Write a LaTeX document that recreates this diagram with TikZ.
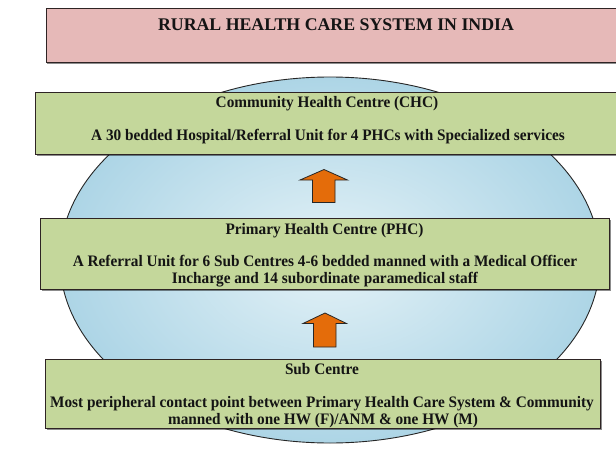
\documentclass[tikz,border=0pt]{standalone}
\usepackage{fontspec}
\setmainfont{Liberation Serif}
\newfontfamily\condserif[FakeStretch=0.955]{Liberation Serif}
\usetikzlibrary{shadows,shapes.geometric}
\definecolor{pinkfill}{HTML}{E6B9B8}
\definecolor{greenfill}{HTML}{C4D79B}
\definecolor{edgecol}{HTML}{2E2424}
\definecolor{txtcol}{HTML}{141414}
\definecolor{ellin}{HTML}{E4F2F7}
\definecolor{ellout}{HTML}{ADD5E6}
\definecolor{arrowfill}{HTML}{E46C0A}
\tikzset{
  boxstyle/.style={draw=edgecol, line width=1pt, anchor=north west, inner sep=0pt,
    drop shadow={shadow xshift=1.2pt, shadow yshift=-1.5pt, fill=black, opacity=0.45}},
  titletext/.style={font=\bfseries\fontsize{17.8}{20}\selectfont, text=txtcol, anchor=base, inner sep=0pt},
  bodytext/.style={font=\condserif\bfseries\fontsize{16}{17}\selectfont, text=txtcol, anchor=base, inner sep=0pt},
  blockarrow/.style={fill=arrowfill, draw=black!85, line width=0.8pt, line join=miter}
}
\begin{document}
\begin{tikzpicture}[x=1pt,y=-1pt]
\useasboundingbox (0,0) rectangle (616,460);
\fill[white] (0,0) rectangle (616,460);
% ellipse
\node[draw=black!85, line width=0.9pt, ellipse, inner color=ellin, outer color=ellout,
  minimum width=540pt, minimum height=366pt, inner sep=0pt] (ell) at (330,260) {};
% title
\node[boxstyle, fill=pinkfill, minimum width=580pt, minimum height=53.7pt] (titlebox) at (45.7,8.3) {};
\node[titletext] (title) at (336,30.7) {RURAL HEALTH CARE SYSTEM IN INDIA};
% CHC
\node[boxstyle, fill=greenfill, minimum width=590pt, minimum height=62.3pt] (chc) at (35,91.7) {};
\node[bodytext] (chct) at (327,107.5) {Community Health Centre (CHC)};
\node[bodytext] (chcd) at (328,140) {A 30 bedded Hospital/Referral Unit for 4 PHCs with Specialized services};
% PHC
\node[boxstyle, fill=greenfill, minimum width=569pt, minimum height=71pt] (phc) at (40,218) {};
\node[bodytext] (phct) at (324.5,234.5) {Primary Health Centre (PHC)};
\node[bodytext] (phcd) at (325,266) {A Referral Unit for 6 Sub Centres 4-6 bedded manned with a Medical Officer};
\node[bodytext] (phce) at (325,283) {Incharge and 14 subordinate paramedical staff};
% Sub centre
\node[boxstyle, fill=greenfill, minimum width=555pt, minimum height=69pt] (sub) at (45.3,358.7) {};
\node[bodytext] (subt) at (322,374) {Sub Centre};
\node[bodytext] (subd) at (322,407.5) {Most peripheral contact point between Primary Health Care System \& Community};
\node[bodytext] (sube) at (323,424.5) {manned with one HW (F)/ANM \& one HW (M)};
% arrows
\coordinate (a1) at (324,169.5);
\coordinate (a2) at (325,313);
\draw[blockarrow] (a1) -- ++(23.5,10.5) -- ++(-12.5,0) -- ++(0,22.5) -- ++(-22.5,0) -- ++(0,-22.5) -- ++(-12.5,0) -- cycle;
\draw[blockarrow] (a2) -- ++(21.5,10.5) -- ++(-10.5,0) -- ++(0,23.5) -- ++(-22.5,0) -- ++(0,-23.5) -- ++(-10.5,0) -- cycle;
\end{tikzpicture}
\end{document}
